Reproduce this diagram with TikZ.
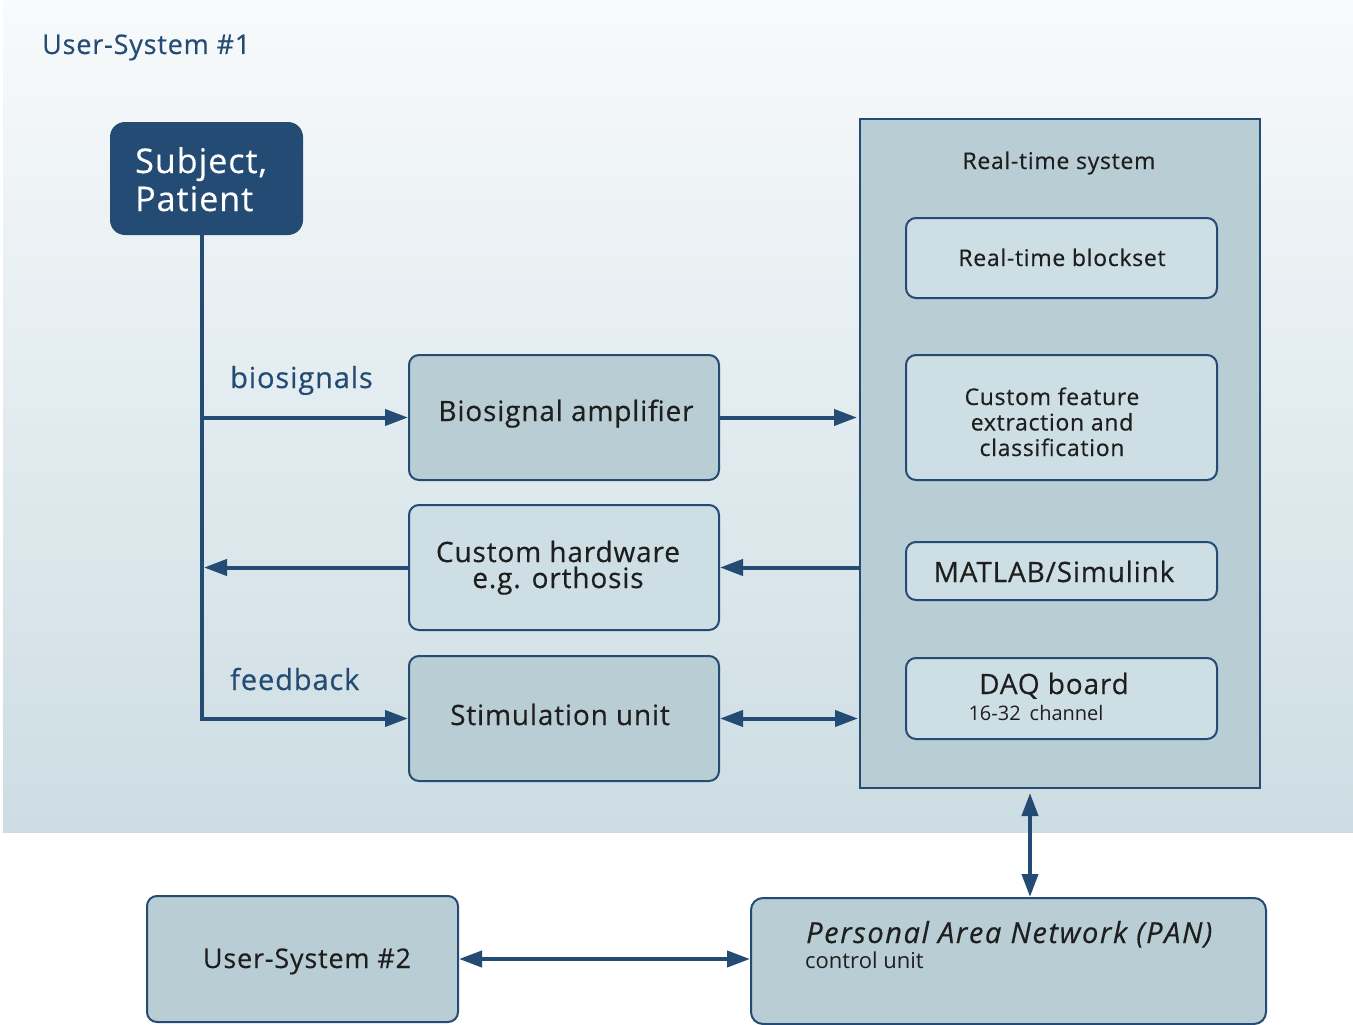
\documentclass[tikz,border=0pt]{standalone}
\usepackage{fontspec}
\setmainfont{Open Sans}[LetterSpace=3, FakeBold=0.4]
\newfontfamily\lightfont{Open Sans}
\usepackage{xcolor}
\usetikzlibrary{arrows.meta,positioning,calc}

\definecolor{navy}{HTML}{234B74}
\definecolor{ink}{HTML}{1E1E1E}
\definecolor{boxdark}{HTML}{B9CDD4}
\definecolor{boxlight}{HTML}{CDDEE4}
\definecolor{bgtop}{HTML}{F8FAFB}
\definecolor{bgbot}{HTML}{CCDDE3}

\tikzset{
  darkbox/.style={draw=navy, line width=2pt, rounded corners=10pt, fill=boxdark, inner sep=0pt},
  lightbox/.style={darkbox, fill=boxlight},
  link/.style={draw=navy, line width=4pt},
  boxtext/.style={anchor=base, text=ink, align=center, inner sep=0pt},
  bluetext/.style={anchor=base west, text=navy, inner sep=0pt}
}

\begin{document}
\begin{tikzpicture}[x=1pt, y=-1pt, >={Triangle[length=23pt,width=16pt]}]
  \useasboundingbox (0,0) rectangle (1353,1025);

  % Background of user system 1
  \shade[top color=bgtop, bottom color=bgbot] (3,0) rectangle (1353,832);
  \node[bluetext, font=\fontsize{27}{30}\selectfont] (title) at (42,54) {User-System \#1};

  % Subject
  \node[fill=navy, rounded corners=15pt, minimum width=193, minimum height=113] (subj) at (206.5,178.5) {};
  \node[anchor=base west, text=white, align=left, inner sep=0pt,
        font=\fontsize{34}{38}\selectfont] (subjtxt) at (135,211) {Subject,\\Patient};

  % Left column boxes
  \node[darkbox, minimum width=310, minimum height=125] (amp) at (564,417.5) {};
  \node[boxtext, font=\fontsize{28}{30}\selectfont] (amptxt) at (566,421) {Biosignal amplifier};
  \node[lightbox, minimum width=310, minimum height=125] (hw) at (564,567.5) {};
  \node[boxtext, font=\fontsize{28}{26}\selectfont] (hwtxt) at (558,588) {Custom hardware\\e.g. orthosis};
  \node[darkbox, minimum width=310, minimum height=125] (stim) at (564,718.5) {};
  \node[boxtext, font=\fontsize{28}{30}\selectfont] (stimtxt) at (560,725) {Stimulation unit};

  % Real-time system
  \node[draw=navy, line width=2pt, fill=boxdark, minimum width=400, minimum height=669] (rts) at (1060,453.5) {};
  \node[boxtext, font=\fontsize{23}{25}\selectfont] (rtstxt) at (1059,169) {Real-time system};
  \node[lightbox, minimum width=311, minimum height=80] (blk) at (1061.5,258) {};
  \node[boxtext, font=\fontsize{23}{25}\selectfont] (blktxt) at (1062,266) {Real-time blockset};
  \node[lightbox, minimum width=311, minimum height=125] (feat) at (1061.5,417.5) {};
  \node[boxtext, font=\fontsize{23}{25.5}\selectfont] (feattxt) at (1052,456) {Custom feature\\extraction and\\classification};
  \node[lightbox, minimum width=311, minimum height=58] (ml) at (1061.5,571) {};
  \node[boxtext, font=\fontsize{28}{30}\selectfont] (mltxt) at (1054,582) {MATLAB/Simulink};
  \node[lightbox, minimum width=311, minimum height=81] (daq) at (1061.5,698.5) {};
  \node[boxtext, font=\fontsize{28}{30}\selectfont] (daqtxt) at (1054,694) {DAQ board};
  \node[boxtext, font=\lightfont\fontsize{20}{24}\selectfont] (chtxt) at (1036,720) {16-32\hspace{9pt}channel};

  % Lower systems
  \node[darkbox, minimum width=311, minimum height=126] (us2) at (302.5,959) {};
  \node[boxtext, font=\fontsize{27}{30}\selectfont] (us2txt) at (307,968) {User-System \#2};
  \node[darkbox, rounded corners=12pt, minimum width=515, minimum height=126] (pan) at (1008.5,961) {};
  \node[anchor=base west, text=ink, inner sep=0pt, font=\fontsize{29}{30}\selectfont\itshape\addfontfeatures{LetterSpace=5.5}] (pantxt) at (806,943) {Personal Area Network (PAN)};
  \node[anchor=base west, text=ink, inner sep=0pt, font=\lightfont\fontsize{22}{24}\selectfont] (ctltxt) at (805,968) {control unit};

  % Signal paths
  \coordinate (bus) at (202,719);
  \draw[link, ->] (subj.south -| bus) |- (stim.west);
  \draw[link, ->] (bus |- amp.west) -- (amp.west);
  \draw[link, ->] (hw.west) -- ([xshift=2pt]bus |- hw.west);
  \node[bluetext, font=\fontsize{29}{30}\selectfont] (biolbl) at (230,388) {biosignals};
  \node[bluetext, font=\fontsize{29}{30}\selectfont] (fblbl) at (230,690) {feedback};

  \draw[link, ->] (amp.east) -- ([xshift=-2pt]amp.east -| rts.west);
  \draw[link, ->] (hw.east -| rts.west) -- (hw.east);
  \draw[link, <->] (stim.east) -- ([xshift=-1pt]stim.east -| rts.west);

  \coordinate (vx) at (1030,850);
  \draw[link, <->] ([yshift=-4pt]rts.south -| vx) -- (pan.north -| vx);
  \draw[link, <->] (us2.east) -- (us2.east -| pan.west);
\end{tikzpicture}
\end{document}
